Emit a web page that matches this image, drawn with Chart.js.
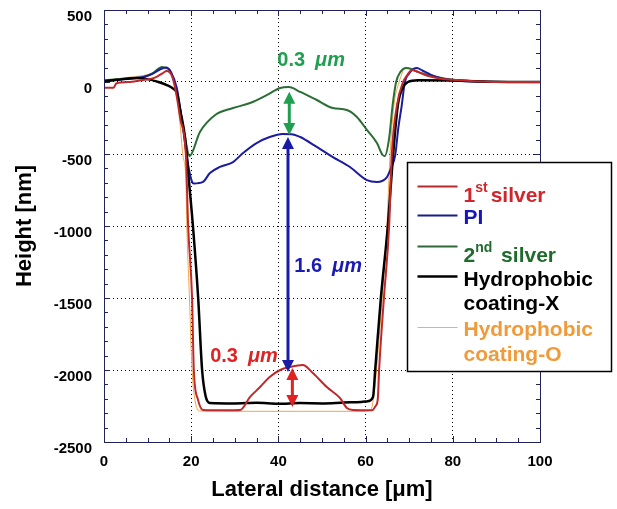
<!DOCTYPE html>
<html>
<head>
<meta charset="utf-8">
<script src="https://cdn.jsdelivr.net/npm/chart.js@4.4.1/dist/chart.umd.min.js"></script>
<style>
html, body { margin: 0; padding: 0; background: #fff; }
</style>
</head>
<body>
<canvas id="grafica" width="617" height="509"></canvas>
<script>
const silver1X = [0, 2.2, 2.8, 6, 9, 11.7, 13.5, 14.4, 15.6, 16.5, 17.5, 18.8, 19.3, 20.2, 20.6, 21.5, 22.7, 25, 28, 31.2, 33.5, 35.8, 38, 40.4, 42.7, 45.6, 47.9, 51.1, 54.1, 55.7, 57.1, 61.5, 62.3, 62.8, 63.1, 64.2, 65.4, 66.0, 67.2, 68.6, 69.6, 70.6, 72, 74, 77, 80, 85, 90, 100];
const silver1Y = [-40, -40, -10, 0, 14, 30, 62, 76, 40, -70, -256, -520, -1000, -1500, -2000, -2200, -2278, -2280, -2280, -2278, -2187, -2118, -2049, -2000, -1979, -1965, -2021, -2118, -2194, -2264, -2278, -2280, -2250, -2200, -2000, -1500, -1000, -507, -160, 0, 50, 83, 70, 45, 25, 15, 5, 0, 0];

const piX = [0, 5, 9, 11, 13, 14.2, 15.3, 16.7, 18.1, 19.3, 20.2, 20.6, 22.7, 24.3, 26.6, 29.6, 31.9, 35, 38, 41, 43, 45, 48.8, 52.5, 56.4, 60.3, 62.6, 64.9, 65.8, 66.8, 67.5, 68.3, 69, 70, 71, 71.8, 73, 75, 77, 80, 85, 90, 100];
const piY = [5, 20, 35, 55, 90, 100, 70, -42, -319, -576, -694, -705, -694, -632, -590, -556, -493, -424, -382, -361, -362, -382, -451, -521, -590, -681, -694, -660, -600, -507, -320, -160, 0, 60, 92, 97, 80, 50, 28, 12, 3, 0, 0];

const silver2X = [0, 5, 9, 11.2, 13.3, 14, 15.1, 16.3, 17.4, 18.6, 19.6, 22, 25.5, 29.6, 33.5, 37.4, 40.4, 42.4, 45, 48.8, 52.5, 55.7, 58, 60.3, 62.6, 63.9, 64.4, 65.4, 66.2, 67, 68, 69.3, 70.5, 72, 75, 78, 82, 90, 100];
const silver2Y = [12, 25, 35, 62, 104, 100, 83, -21, -181, -389, -515, -347, -229, -181, -146, -90, -42, -35, -69, -125, -181, -194, -243, -333, -424, -507, -514, -390, -160, 0, 70, 97, 90, 70, 45, 25, 10, 0, 0];

const coatXX = [0, 3, 7.5, 10, 12.5, 14.4, 16, 16.7, 17.5, 18.6, 19.5, 20.4, 21.6, 22.5, 23.3, 24.3, 30, 35, 40, 45, 50, 55, 59, 60.3, 61.7, 62.2, 63.5, 65.1, 66.3, 67.4, 68.5, 69.7, 72, 80, 90, 100];
const coatXY = [5, 15, 28, 20, 0, -21, -50, -76, -200, -389, -694, -1000, -1500, -2000, -2180, -2229, -2232, -2228, -2234, -2230, -2232, -2226, -2222, -2218, -2187, -2000, -1500, -1000, -507, -160, -40, 0, 12, 10, 2, 0];

const coatOX = [0, 5, 9, 11, 13, 14, 15, 16, 16.8, 17.4, 18.1, 18.8, 19, 19.6, 20.2, 21, 22, 30, 45, 60, 61.3, 62, 62.5, 63.8, 64.9, 65.6, 66.5, 67.7, 68.5, 69, 70, 72, 75, 80, 85, 90, 100];
const coatOY = [10, 30, 45, 60, 85, 92, 70, 10, -100, -278, -507, -700, -1000, -1500, -2000, -2230, -2285, -2287, -2287, -2287, -2270, -2150, -2000, -1500, -1000, -507, -160, 0, 70, 95, 95, 70, 40, 15, 5, 0, 0];

const xMin = 0, xMax = 100, xPaso = 20;
const yMin = -2500, yMax = 500, yPaso = 500;

function puntos(xs, ys) {
    return xs.map((x, i) => ({ x: x, y: ys[i] }));
}

// LEYENDA
const leyenda = [
    { linea: '#b8282c', grosor: 2, color: '#d0262b', y: 24, renglones: [[['1', 0], ['st', 1], ['silver', 0]]], bases: [39] },
    { linea: '#1c1c8c', grosor: 2, color: '#1616c0', y: 53, renglones: [[['PI', 0]]], bases: [61] },
    { linea: '#2e6a3a', grosor: 2, color: '#1f6b2e', y: 84, renglones: [[['2', 0], ['nd', 1], [' silver', 0]]], bases: [99] },
    { linea: '#000000', grosor: 2.5, color: '#000000', y: 114, renglones: [[['Hydrophobic', 0]], [['coating-X', 0]]], bases: [123, 147] },
    { linea: '#f0b060', grosor: 1, color: '#f09a3a', y: 165, renglones: [[['Hydrophobic', 0]], [['coating-O', 0]]], bases: [173, 198] }
];

// ANOTACIONES (en unidades de datos)
const flechas = [
    { x: 42.5, y1: -67, y2: -368, color: '#1fa050' },
    { x: 42.2, y1: -382, y2: -2014, color: '#1a1aa8' },
    { x: 43.2, y1: -1986, y2: -2257, color: '#e02222' }
];
const textos = [
    { x: 47.5, y: 150, valor: '0.3', color: '#1fa050' },
    { x: 51.4, y: -1278, valor: '1.6', color: '#1a1ab4' },
    { x: 32.1, y: -1903, valor: '0.3', color: '#e02222' }
];

const FUENTE = "'Liberation Sans', Arial, sans-serif";
const MARCO = '#22225a';

const decoraciones = {
    id: 'decoraciones',
    beforeDatasetsDraw(chart) {
        const ctx = chart.ctx;
        const a = chart.chartArea;
        const sx = chart.scales.x, sy = chart.scales.y;
        ctx.save();
        ctx.strokeStyle = MARCO;
        ctx.lineWidth = 1;
        ctx.beginPath();
        for (let v = yMin; v <= yMax; v += 100) {
            const p = Math.round(sy.getPixelForValue(v)) + 0.5;
            const l = v % yPaso === 0 ? 6 : 4;
            ctx.moveTo(a.left, p); ctx.lineTo(a.left + l, p);
            ctx.moveTo(a.right, p); ctx.lineTo(a.right - l, p);
        }
        for (let v = xMin; v <= xMax; v += 5) {
            const p = Math.round(sx.getPixelForValue(v)) + 0.5;
            const l = v % xPaso === 0 ? 6 : 4;
            ctx.moveTo(p, a.bottom); ctx.lineTo(p, a.bottom - l);
            ctx.moveTo(p, a.top); ctx.lineTo(p, a.top + l);
        }
        ctx.stroke();
        ctx.restore();
    },
    afterDraw(chart) {
        const ctx = chart.ctx;
        const a = chart.chartArea;
        const sx = chart.scales.x, sy = chart.scales.y;
        ctx.save();

        // marco
        ctx.strokeStyle = MARCO;
        ctx.lineWidth = 1;
        ctx.strokeRect(Math.round(a.left) + 0.5, Math.round(a.top) + 0.5, Math.round(a.right - a.left), Math.round(a.bottom - a.top));

        // flechas
        flechas.forEach(f => {
            const x = sx.getPixelForValue(f.x);
            const p1 = sy.getPixelForValue(f.y1);
            const p2 = sy.getPixelForValue(f.y2);
            ctx.strokeStyle = f.color;
            ctx.fillStyle = f.color;
            ctx.lineWidth = 3;
            ctx.beginPath();
            ctx.moveTo(x, p1 + 8); ctx.lineTo(x, p2 - 8);
            ctx.stroke();
            ctx.beginPath();
            ctx.moveTo(x, p1); ctx.lineTo(x - 6, p1 + 12); ctx.lineTo(x + 6, p1 + 12); ctx.closePath();
            ctx.moveTo(x, p2); ctx.lineTo(x - 6, p2 - 12); ctx.lineTo(x + 6, p2 - 12); ctx.closePath();
            ctx.fill();
        });

        // textos de espesor
        ctx.textBaseline = 'middle';
        textos.forEach(t => {
            const x = sx.getPixelForValue(t.x);
            const y = sy.getPixelForValue(t.y);
            ctx.fillStyle = t.color;
            ctx.font = 'bold 20px ' + FUENTE;
            const w1 = ctx.measureText(t.valor).width;
            ctx.font = 'italic bold 20px ' + FUENTE;
            const w2 = ctx.measureText('\u03bcm').width;
            const total = w1 + 10 + w2;
            ctx.textAlign = 'left';
            ctx.font = 'bold 20px ' + FUENTE;
            ctx.fillText(t.valor, x - total / 2, y);
            ctx.font = 'italic bold 20px ' + FUENTE;
            ctx.fillText('\u03bcm', x - total / 2 + w1 + 10, y);
        });

        // leyenda
        const bx = Math.round(a.right - 133) + 0.5;
        const by = Math.round(a.top + 152) + 0.5;
        ctx.fillStyle = '#fff';
        ctx.fillRect(bx, by, 204, 209);
        ctx.strokeStyle = '#000';
        ctx.lineWidth = 1.5;
        ctx.strokeRect(bx, by, 204, 209);
        ctx.textBaseline = 'alphabetic';
        ctx.textAlign = 'left';
        leyenda.forEach(it => {
            ctx.strokeStyle = it.linea;
            ctx.lineWidth = it.grosor;
            ctx.beginPath();
            ctx.moveTo(bx + 10, by + it.y);
            ctx.lineTo(bx + 50, by + it.y);
            ctx.stroke();
            ctx.fillStyle = it.color;
            it.renglones.forEach((partes, k) => {
                let cx = bx + 56;
                const base = by + it.bases[k];
                partes.forEach(([txt, sup]) => {
                    ctx.font = sup ? 'bold 14px ' + FUENTE : 'bold 21px ' + FUENTE;
                    ctx.fillText(txt, cx, sup ? base - 10 : base);
                    cx += ctx.measureText(txt).width + (sup ? 3 : 0);
                });
            });
        });
        ctx.restore();
    }
};

const estiloSerie = (label, xs, ys, color, ancho) => ({
    label: label,
    data: puntos(xs, ys),
    borderColor: color,
    borderWidth: ancho,
    pointRadius: 0,
    cubicInterpolationMode: 'monotone',
    fill: false
});

new Chart(document.getElementById('grafica').getContext('2d'), {
    type: 'line',
    data: {
        datasets: [
            estiloSerie('1st silver', silver1X, silver1Y, '#c0282a', 2),
            estiloSerie('Hydrophobic coating-X', coatXX, coatXY, '#000000', 2.5),
            estiloSerie('PI', piX, piY, '#1c1ca0', 2),
            estiloSerie('2nd silver', silver2X, silver2Y, '#2a6e35', 2),
            estiloSerie('Hydrophobic coating-O', coatOX, coatOY, '#eba84a', 1)
        ]
    },
    options: {
        responsive: false,
        animation: false,
        layout: { padding: { left: 0, top: 10, right: 77, bottom: 0 } },
        plugins: { legend: { display: false }, tooltip: { enabled: false } },
        scales: {
            x: {
                type: 'linear',
                min: xMin, max: xMax,
                afterFit: s => { s.height = 67; s.paddingLeft = 0; s.paddingRight = 0; },
                ticks: { stepSize: xPaso, color: '#000', padding: 11, font: { family: FUENTE, size: 15, weight: 'bold' } },
                grid: { color: '#000', lineWidth: 1, drawTicks: false },
                border: { color: MARCO, width: 1, dash: [1, 3] },
                title: { display: true, text: 'Lateral distance [\u03bcm]', color: '#000', padding: { top: 0, bottom: 6 }, font: { family: FUENTE, size: 22, weight: 'bold' } }
            },
            y: {
                min: yMin, max: yMax,
                afterFit: s => { s.width = 104; s.paddingTop = 0; s.paddingBottom = 0; },
                ticks: { stepSize: yPaso, color: '#000', padding: 12, labelOffset: 7, callback: v => String(v), font: { family: FUENTE, size: 15, weight: 'bold' } },
                grid: { color: '#000', lineWidth: 1, drawTicks: false },
                border: { color: MARCO, width: 1, dash: [1, 3] },
                title: { display: true, text: 'Height [nm]', color: '#000', padding: { top: 12, bottom: 0 }, font: { family: FUENTE, size: 22, weight: 'bold' } }
            }
        }
    },
    plugins: [decoraciones]
});
</script>
</body>
</html>
